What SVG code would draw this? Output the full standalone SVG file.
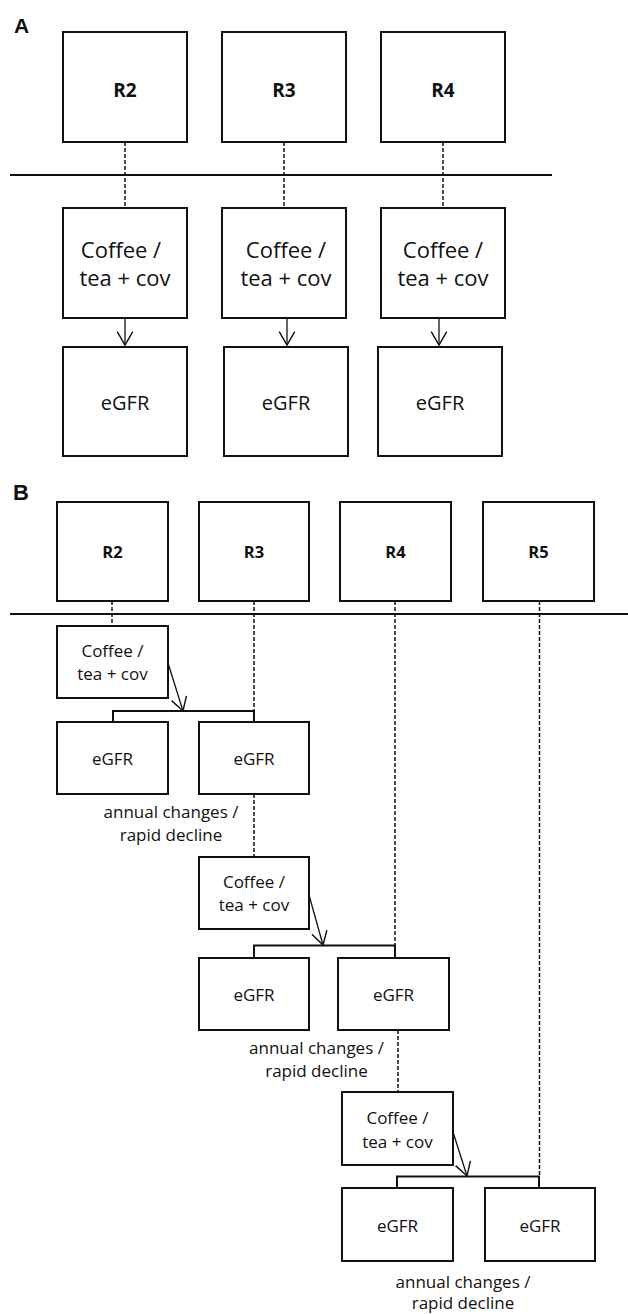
<svg xmlns="http://www.w3.org/2000/svg" width="628" height="1314" viewBox="0 0 628 1314">
<style>
.box{fill:#fff;stroke:#111;stroke-width:2}
.t{font-family:"Open Sans","Liberation Sans",sans-serif;fill:#111;text-anchor:middle}
.rb{font-weight:bold}
.panel{font-family:"Liberation Sans",Arial,sans-serif;font-weight:bold;fill:#111}
.div{stroke:#111;stroke-width:2;fill:none}
.dash{stroke:#111;stroke-width:1.5;stroke-dasharray:4 2;fill:none}
.arr{stroke:#111;stroke-width:1.3;fill:none;marker-end:url(#vh)}
.br{stroke:#111;stroke-width:2;fill:none}
</style>
<defs>
<marker id="vh" markerUnits="userSpaceOnUse" markerWidth="20" markerHeight="20" viewBox="-14 -9 16 18" refX="0" refY="0" orient="auto">
<path d="M-12,-7 L0,0 L-12,7" fill="none" stroke="#111" stroke-width="1.3"/>
</marker>
</defs>

<text class="panel" x="14" y="33" font-size="21">A</text>
<text class="panel" x="13" y="500" font-size="22">B</text>

<g id="connectors">
<line class="div" x1="10" y1="175" x2="552" y2="175"/>
<line class="dash" x1="125" y1="142" x2="125" y2="208"/>
<line class="dash" x1="284" y1="142" x2="284" y2="208"/>
<line class="dash" x1="443" y1="142" x2="443" y2="208"/>
<line class="arr" x1="125" y1="318" x2="125" y2="345"/>
<line class="arr" x1="287" y1="318" x2="287" y2="345"/>
<line class="arr" x1="439" y1="318" x2="439" y2="345"/>

<line class="div" x1="10" y1="614" x2="628" y2="614"/>
<line class="dash" x1="112" y1="601" x2="112" y2="626"/>
<line class="dash" x1="254" y1="601" x2="254" y2="711"/>
<line class="dash" x1="395" y1="601" x2="395" y2="945"/>
<line class="dash" x1="539.5" y1="601" x2="539.5" y2="1176"/>
<line class="dash" x1="254" y1="794" x2="254" y2="857"/>
<line class="dash" x1="398" y1="1030" x2="398" y2="1092"/>

<path class="br" d="M113,722 V711 H254 V722"/>
<path class="br" d="M254,958 V945.5 H395 V958"/>
<path class="br" d="M397,1188 V1176.5 H539 V1188"/>

<line class="arr" x1="168" y1="663" x2="183" y2="711"/>
<line class="arr" x1="309" y1="895" x2="323" y2="945"/>
<line class="arr" x1="453" y1="1132" x2="467" y2="1176"/>
</g>

<g id="A-R2"><rect class="box" x="63" y="32" width="124" height="110"/><text class="t rb" x="125" y="97" font-size="19">R2</text></g>
<g id="A-R3"><rect class="box" x="222" y="32" width="124" height="110"/><text class="t rb" x="284" y="97" font-size="19">R3</text></g>
<g id="A-R4"><rect class="box" x="381" y="32" width="124" height="110"/><text class="t rb" x="443" y="97" font-size="19">R4</text></g>

<g id="A-C2"><rect class="box" x="63" y="208" width="124" height="110"/><text class="t" x="121" y="258" font-size="22">Coffee /</text><text class="t" x="125" y="286" font-size="22">tea + cov</text></g>
<g id="A-C3"><rect class="box" x="222" y="208" width="124" height="110"/><text class="t" x="286" y="258" font-size="22">Coffee /</text><text class="t" x="286" y="286" font-size="22">tea + cov</text></g>
<g id="A-C4"><rect class="box" x="381" y="208" width="124" height="110"/><text class="t" x="443" y="258" font-size="22">Coffee /</text><text class="t" x="443" y="286" font-size="22">tea + cov</text></g>

<g id="A-E2"><rect class="box" x="63" y="347" width="124" height="109"/><text class="t" x="125" y="410" font-size="20">eGFR</text></g>
<g id="A-E3"><rect class="box" x="224" y="347" width="124" height="109"/><text class="t" x="286" y="410" font-size="20">eGFR</text></g>
<g id="A-E4"><rect class="box" x="378" y="347" width="124" height="109"/><text class="t" x="440" y="410" font-size="20">eGFR</text></g>

<g id="B-R2"><rect class="box" x="57" y="502" width="111" height="99"/><text class="t rb" x="112.5" y="558" font-size="16.5">R2</text></g>
<g id="B-R3"><rect class="box" x="199" y="502" width="110" height="99"/><text class="t rb" x="254" y="558" font-size="16.5">R3</text></g>
<g id="B-R4"><rect class="box" x="340" y="502" width="111" height="99"/><text class="t rb" x="395.5" y="558" font-size="16.5">R4</text></g>
<g id="B-R5"><rect class="box" x="483" y="502" width="111" height="99"/><text class="t rb" x="538.5" y="558" font-size="16.5">R5</text></g>

<g id="B-C1"><rect class="box" x="57" y="626" width="111" height="72"/><text class="t" x="112.5" y="657" font-size="17">Coffee /</text><text class="t" x="112.5" y="680" font-size="17">tea + cov</text></g>
<g id="B-E1a"><rect class="box" x="57" y="722" width="111" height="72"/><text class="t" x="112.5" y="765" font-size="17">eGFR</text></g>
<g id="B-E1b"><rect class="box" x="199" y="722" width="110" height="72"/><text class="t" x="254" y="765" font-size="17">eGFR</text></g>
<g id="B-L1"><text class="t" x="171" y="818" font-size="17">annual changes /</text><text class="t" x="171" y="841" font-size="17">rapid decline</text></g>

<g id="B-C2"><rect class="box" x="199" y="857" width="110" height="72"/><text class="t" x="254" y="888" font-size="17">Coffee /</text><text class="t" x="254" y="911" font-size="17">tea + cov</text></g>
<g id="B-E2a"><rect class="box" x="199" y="958" width="110" height="72"/><text class="t" x="254" y="1001" font-size="17">eGFR</text></g>
<g id="B-E2b"><rect class="box" x="338" y="958" width="111" height="72"/><text class="t" x="393.5" y="1001" font-size="17">eGFR</text></g>
<g id="B-L2"><text class="t" x="316.5" y="1054" font-size="17">annual changes /</text><text class="t" x="316.5" y="1077" font-size="17">rapid decline</text></g>

<g id="B-C3"><rect class="box" x="342" y="1092" width="111" height="73"/><text class="t" x="397.5" y="1124" font-size="17">Coffee /</text><text class="t" x="397.5" y="1148" font-size="17">tea + cov</text></g>
<g id="B-E3a"><rect class="box" x="342" y="1188" width="111" height="73"/><text class="t" x="397.5" y="1232" font-size="17">eGFR</text></g>
<g id="B-E3b"><rect class="box" x="485" y="1188" width="110" height="73"/><text class="t" x="540" y="1232" font-size="17">eGFR</text></g>
<g id="B-L3"><text class="t" x="463" y="1288" font-size="17">annual changes /</text><text class="t" x="463" y="1309" font-size="17">rapid decline</text></g>
</svg>
